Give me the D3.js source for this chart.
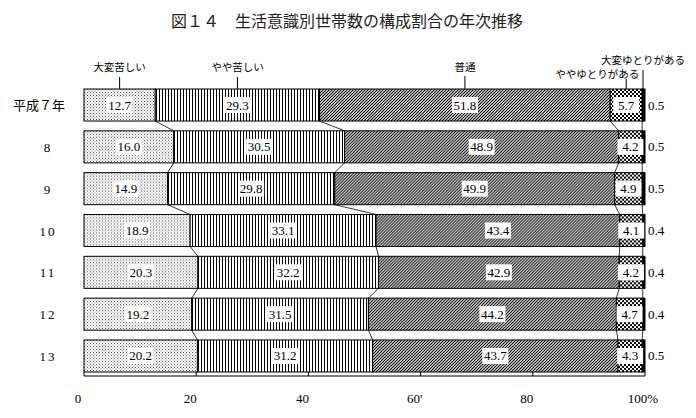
<!DOCTYPE html>
<html>
<head>
<meta charset="utf-8">
<script src="https://cdn.jsdelivr.net/npm/d3@7"></script>
<style>
body { margin: 0; background: #fff; }
svg { display: block; }
.jp { font-family: "Noto Sans CJK JP", sans-serif; }
.num { font-family: "Liberation Serif", serif; }
</style>
</head>
<body>
<svg id="chart" width="696" height="418"></svg>
<script>
var years = ["平成７年", "8", "9", "10", "11", "12", "13"];
var categories = ["大変苦しい", "やや苦しい", "普通", "ややゆとりがある", "大変ゆとりがある"];
var verySevere = [12.7, 16.0, 14.9, 18.9, 20.3, 19.2, 20.2];
var somewhatSevere = [29.3, 30.5, 29.8, 33.1, 32.2, 31.5, 31.2];
var normal = [51.8, 48.9, 49.9, 43.4, 42.9, 44.2, 43.7];
var somewhatComfy = [5.7, 4.2, 4.9, 4.1, 4.2, 4.7, 4.3];
var veryComfy = [0.5, 0.5, 0.5, 0.4, 0.4, 0.4, 0.5];
var ticks = [0, 20, 40, 60, 80, 100];
var tickLabels = ["0", "20", "40", "60'", "80", "100%"];

var svg = d3.select("#chart");

var x = d3.scaleLinear().domain([0, 100]).range([84, 645]);
var y = d3.scaleBand().domain(years).range([89, 372]).paddingInner(0.234).paddingOuter(0);

// patterns
var defs = svg.append("defs");

var pDots = defs.append("pattern").attr("id", "p0")
	.attr("patternUnits", "userSpaceOnUse").attr("width", 3).attr("height", 3);
pDots.append("rect").attr("width", 3).attr("height", 3).attr("fill", "#fff");
pDots.append("rect").attr("x", 0).attr("y", 0).attr("width", 1).attr("height", 1).attr("fill", "#555");
pDots.append("rect").attr("x", 1.5).attr("y", 1.5).attr("width", 1).attr("height", 1).attr("fill", "#777");

var pVert = defs.append("pattern").attr("id", "p1")
	.attr("patternUnits", "userSpaceOnUse").attr("width", 3).attr("height", 3);
pVert.append("rect").attr("width", 3).attr("height", 3).attr("fill", "#fff");
pVert.append("rect").attr("x", 0).attr("width", 1).attr("height", 3).attr("fill", "#000");

var pDiag = defs.append("pattern").attr("id", "p2")
	.attr("patternUnits", "userSpaceOnUse").attr("width", 3).attr("height", 3);
pDiag.append("rect").attr("width", 3).attr("height", 3).attr("fill", "#fff");
pDiag.append("path").attr("d", "M0,3 L3,0 M-1,1 L1,-1 M2,4 L4,2")
	.attr("stroke", "#000").attr("stroke-width", 1.1);

var pCheck = defs.append("pattern").attr("id", "p3")
	.attr("patternUnits", "userSpaceOnUse").attr("width", 4).attr("height", 4);
pCheck.append("rect").attr("width", 4).attr("height", 4).attr("fill", "#fff");
pCheck.append("rect").attr("x", 0).attr("y", 0).attr("width", 2).attr("height", 2).attr("fill", "#000");
pCheck.append("rect").attr("x", 2).attr("y", 2).attr("width", 2).attr("height", 2).attr("fill", "#000");

var fills = ["url(#p0)", "url(#p1)", "url(#p2)", "url(#p3)", "#000"];

// build rows, normalised so each bar ends at 100
var rows = years.map(function(yr, i) {
	var vals = [verySevere[i], somewhatSevere[i], normal[i], somewhatComfy[i], veryComfy[i]];
	var total = d3.sum(vals);
	var acc = 0;
	var segs = vals.map(function(v, k) {
		var s = { year: yr, k: k, value: v, x0: acc * 100 / total };
		acc += v;
		s.x1 = acc * 100 / total;
		return s;
	});
	return { year: yr, segs: segs };
});

// title
svg.append("text")
	.attr("class", "jp")
	.attr("x", 347).attr("y", 27)
	.attr("text-anchor", "middle")
	.style("font-size", "16px")
	.style("fill", "#222")
	.text("図１４　生活意識別世帯数の構成割合の年次推移");

// connector lines between bars
for (var i = 0; i < rows.length - 1; i++) {
	for (var k = 0; k < 4; k++) {
		svg.append("line")
			.attr("x1", x(rows[i].segs[k].x1))
			.attr("y1", y(rows[i].year) + y.bandwidth())
			.attr("x2", x(rows[i + 1].segs[k].x1))
			.attr("y2", y(rows[i + 1].year))
			.attr("stroke", "#000")
			.attr("stroke-width", 0.8);
	}
}

// bars
var row = svg.selectAll("g.row").data(rows).enter()
	.append("g").attr("class", "row")
	.attr("transform", function(d) { return "translate(0," + y(d.year) + ")"; });

row.selectAll("rect.seg").data(function(d) { return d.segs; }).enter()
	.append("rect").attr("class", "seg")
	.attr("x", function(d) { return x(d.x0); })
	.attr("width", function(d) { return x(d.x1) - x(d.x0); })
	.attr("height", y.bandwidth())
	.attr("fill", function(d) { return fills[d.k]; })
	.attr("stroke", "#000")
	.attr("stroke-width", 1);

// value boxes
var lab = row.selectAll("g.lab").data(function(d) { return d.segs.slice(0, 4); }).enter()
	.append("g").attr("class", "lab")
	.attr("transform", function(d) {
		return "translate(" + x((d.x0 + d.x1) / 2) + "," + (y.bandwidth() / 2) + ")";
	});

lab.append("rect")
	.attr("x", -13).attr("y", -8)
	.attr("width", 26).attr("height", 16)
	.attr("fill", "#fff");

lab.append("text")
	.attr("class", "num")
	.attr("text-anchor", "middle")
	.attr("y", 4.5)
	.style("font-size", "13px")
	.text(function(d) { return d.value.toFixed(1); });

// last segment value to the right
row.append("text")
	.attr("class", "num")
	.attr("x", x(100) + 3)
	.attr("y", y.bandwidth() / 2 + 4.5)
	.style("font-size", "13px")
	.text(function(d) { return d.segs[4].value.toFixed(1); });

// year labels
svg.selectAll("text.year").data(years).enter()
	.append("text")
	.attr("class", function(d, i) { return i == 0 ? "year jp" : "year num"; })
	.attr("x", function(d, i) { return i == 0 ? 39 : 48; })
	.attr("y", function(d) { return y(d) + y.bandwidth() / 2 + 5; })
	.attr("text-anchor", "middle")
	.style("font-size", "13px")
	.style("letter-spacing", function(d, i) { return i == 0 ? "0px" : "2px"; })
	.text(function(d) { return d; });

// category labels with leaders (placed over first bar)
var lift = [18, 18, 18, 11, 25];
var leaderTop = [77, 77, 76, 79, 70];
rows[0].segs.forEach(function(s, k) {
	var cx = x((s.x0 + s.x1) / 2);
	if (k == 4) cx = x(100) - 2;
	var top = y(rows[0].year);
	svg.append("line")
		.attr("x1", cx).attr("x2", cx)
		.attr("y1", leaderTop[k]).attr("y2", top)
		.attr("stroke", "#000").attr("stroke-width", 1);
	svg.append("text")
		.attr("class", "jp")
		.attr("x", k == 3 ? cx + 13 : cx)
		.attr("y", top - lift[k])
		.attr("text-anchor", k == 3 ? "end" : "middle")
		.style("font-size", "10.5px")
		.text(categories[k]);
});

// axis
var axisY = 376;
svg.append("line")
	.attr("x1", x(0)).attr("x2", x(100))
	.attr("y1", axisY).attr("y2", axisY)
	.attr("stroke", "#000").attr("stroke-width", 1.2);

svg.selectAll("line.tick").data(ticks).enter()
	.append("line").attr("class", "tick")
	.attr("x1", function(d) { return x(d); })
	.attr("x2", function(d) { return x(d); })
	.attr("y1", axisY - 4).attr("y2", axisY)
	.attr("stroke", "#000").attr("stroke-width", 1);

svg.selectAll("text.tl").data(ticks).enter()
	.append("text").attr("class", "tl num")
	.attr("x", function(d, i) { return x(d) - (i == ticks.length - 1 ? 2 : 6); })
	.attr("y", 403)
	.attr("text-anchor", "middle")
	.style("font-size", "13px")
	.text(function(d, i) { return tickLabels[i]; });
</script>
</body>
</html>
